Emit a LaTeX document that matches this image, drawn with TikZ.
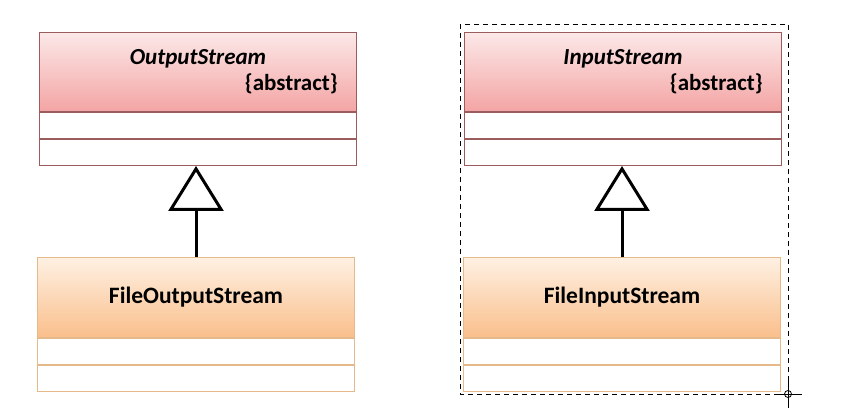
\documentclass[tikz,border=0pt]{standalone}
\usepackage{fontspec}
\setmainfont{Carlito}
\usetikzlibrary{positioning,arrows.meta}

\definecolor{rosetop}{HTML}{FCE8E8}
\definecolor{rosebottom}{HTML}{F4A4A4}
\definecolor{roseline}{HTML}{9A5C5C}
\definecolor{peachtop}{HTML}{FEF0E2}
\definecolor{peachbottom}{HTML}{FABF8C}
\definecolor{peachline}{HTML}{E6B98A}

\begin{document}
\begin{tikzpicture}[x=1pt,y=-1pt,
  header/.style={rectangle,minimum width=317pt,minimum height=79pt,inner sep=0pt,
    font=\fontsize{23.5}{26}\selectfont\bfseries},
  abshead/.style={header,draw=roseline,line width=1pt,top color=rosetop,bottom color=rosebottom},
  conhead/.style={header,draw=peachline,line width=1pt,top color=peachtop,bottom color=peachbottom},
  compart/.style={rectangle,minimum width=317pt,minimum height=26pt,inner sep=0pt,fill=white,line width=1pt},
  classname/.style={font=\fontsize{23}{26}\selectfont\bfseries\itshape,inner sep=0pt,anchor=base},
  absnote/.style={font=\fontsize{23}{26}\selectfont\bfseries,inner sep=0pt,anchor=base east},
  inherit/.style={line width=3pt,-{Triangle[open,length=45pt,width=55pt,line width=3pt]}}]
\useasboundingbox (0,0) rectangle (848,419);

% abstract classes
\node[abshead] (os) at (198,72) {};
\node[compart,draw=roseline,below=0pt of os] (osA) {};
\node[compart,draw=roseline,below=0pt of osA] (osB) {};
\node[classname] at ([yshift=-33pt]os.north) {OutputStream};
\node[absnote] at ([xshift=-19pt,yshift=-59pt]os.north east) {\{abstract\}};

\node[abshead] (is) at (623,72) {};
\node[compart,draw=roseline,below=0pt of is] (isA) {};
\node[compart,draw=roseline,below=0pt of isA] (isB) {};
\node[classname] at ([yshift=-33pt]is.north) {InputStream};
\node[absnote] at ([xshift=-19pt,yshift=-59pt]is.north east) {\{abstract\}};

% concrete classes
\node[conhead] (fos) at (196,297.5) {FileOutputStream};
\node[compart,draw=peachline,below=0pt of fos] (fosA) {};
\node[compart,draw=peachline,below=0pt of fosA] (fosB) {};

\node[conhead] (fis) at (622,297.5) {FileInputStream};
\node[compart,draw=peachline,below=0pt of fis] (fisA) {};
\node[compart,draw=peachline,below=0pt of fisA] (fisB) {};

% generalisation
\draw[inherit] (fos.north) -- (fos.north |- osB.south);
\draw[inherit] (fis.north) -- (fis.north |- isB.south);

% selection frame
\draw[dash pattern=on 5pt off 4pt,line width=0.9pt] (460,24) rectangle (788,394);
\coordinate (grip) at (788,394);
\draw[line width=0.8pt] (grip) circle (3.5pt);
\draw[line width=0.8pt] ([xshift=-14pt]grip) -- ([xshift=14pt]grip)
  ([yshift=-14pt]grip) -- ([yshift=14pt]grip);
\end{tikzpicture}
\end{document}
